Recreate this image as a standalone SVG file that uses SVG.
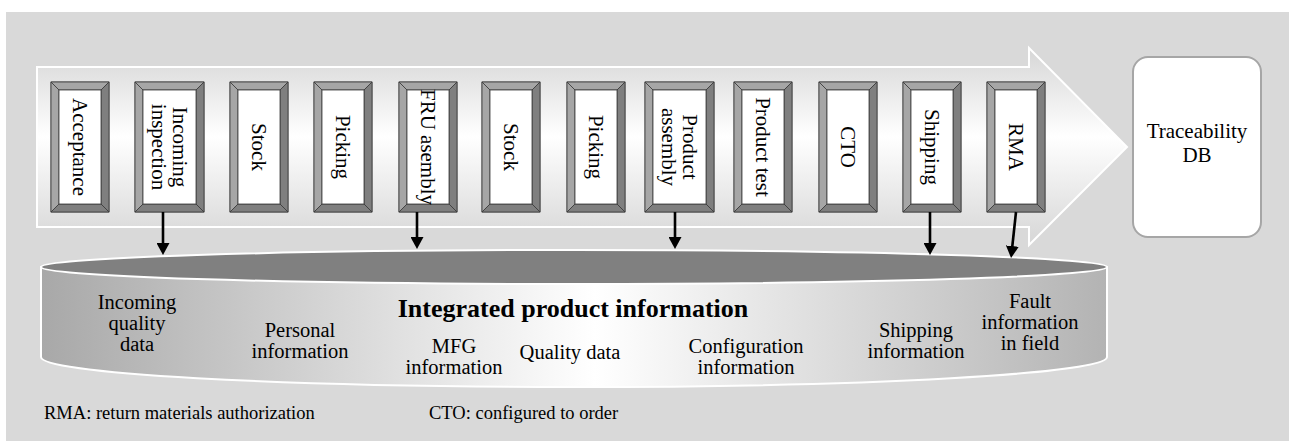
<svg xmlns="http://www.w3.org/2000/svg" xmlns:xlink="http://www.w3.org/1999/xlink" width="1289" height="441" viewBox="0 0 1289 441">
<style>
text{font-family:"Liberation Serif","Times New Roman",serif;fill:#000}
.lbl{font-size:21px;text-anchor:middle}
.cl{font-size:20.5px;text-anchor:middle}
.title{font-size:26px;font-weight:bold;text-anchor:middle}
.note{font-size:18.5px}
.bv{stroke:#3a3a3a;stroke-width:0.8}
.lt{fill:#a6a6a6}
.dk{fill:#7f7f7f}
.in{fill:#fff}
.conn line{stroke:#000;stroke-width:2.6;marker-end:url(#ah)}
</style>
<defs>
<linearGradient id="arrowGrad" x1="0" y1="0" x2="0" y2="1">
<stop offset="0" stop-color="#d6d6d6"/>
<stop offset="0.45" stop-color="#ffffff"/>
<stop offset="1" stop-color="#d6d6d6"/>
</linearGradient>
<linearGradient id="cylGrad" x1="0" y1="0" x2="1" y2="0">
<stop offset="0" stop-color="#a8a8a8"/>
<stop offset="0.52" stop-color="#ffffff"/>
<stop offset="1" stop-color="#b3b3b3"/>
</linearGradient>
<marker id="ah" markerUnits="userSpaceOnUse" markerWidth="13" markerHeight="13" refX="6" refY="6.5" orient="auto">
<path d="M0,0 L12,6.5 L0,13 Z" fill="#000"/>
</marker>
<g id="box58">
<rect class="lt bv" x="0" y="0" width="58" height="130"/>
<polygon class="lt bv" points="0,0 58,0 50,8 8,8"/>
<polygon class="lt bv" points="0,0 8,8 8,122 0,130"/>
<polygon class="dk bv" points="58,0 58,130 50,122 50,8"/>
<polygon class="dk bv" points="0,130 58,130 50,122 8,122"/>
<rect class="in bv" x="8" y="8" width="42" height="114"/>
</g>
<g id="box69">
<rect class="lt bv" x="0" y="0" width="69" height="130"/>
<polygon class="lt bv" points="0,0 69,0 61,8 8,8"/>
<polygon class="lt bv" points="0,0 8,8 8,122 0,130"/>
<polygon class="dk bv" points="69,0 69,130 61,122 61,8"/>
<polygon class="dk bv" points="0,130 69,130 61,122 8,122"/>
<rect class="in bv" x="8" y="8" width="53" height="114"/>
</g>
</defs>

<rect x="6" y="12" width="1283" height="429" fill="#d9d9d9"/>

<g id="process-arrow">
<path d="M37,67 L1029,67 L1029,48 L1127,147 L1029,245 L1029,227 L37,227 Z" fill="url(#arrowGrad)" stroke="#fff" stroke-width="2"/>
</g>

<g id="traceability-db">
<rect x="1133" y="57" width="128" height="180" rx="15" fill="#fff" stroke="#a6a6a6" stroke-width="2"/>
<text class="lbl" x="1197" y="138">Traceability</text>
<text class="lbl" x="1197" y="162">DB</text>
</g>

<g id="cylinder">
<path d="M41,267 L41,357 A533,30 0 0 0 1107,357 L1107,267 Z" fill="url(#cylGrad)" stroke="#fff" stroke-width="2"/>
<ellipse cx="574" cy="267" rx="533" ry="17" fill="#808080" stroke="#fff" stroke-width="2"/>
<text class="title" x="573" y="317">Integrated product information</text>
<text class="cl" x="137" y="309">Incoming</text>
<text class="cl" x="137" y="330">quality</text>
<text class="cl" x="137" y="351">data</text>
<text class="cl" x="300" y="337">Personal</text>
<text class="cl" x="300" y="358">information</text>
<text class="cl" x="454" y="353">MFG</text>
<text class="cl" x="454" y="374">information</text>
<text class="cl" x="570" y="359">Quality data</text>
<text class="cl" x="746" y="353">Configuration</text>
<text class="cl" x="746" y="374">information</text>
<text class="cl" x="916" y="337">Shipping</text>
<text class="cl" x="916" y="358">information</text>
<text class="cl" x="1030" y="308">Fault</text>
<text class="cl" x="1030" y="329">information</text>
<text class="cl" x="1030" y="350">in field</text>
</g>

<g id="step-acceptance">
<use xlink:href="#box58" x="51" y="82"/>
<text class="lbl" transform="translate(80,147) rotate(90)" y="7">Acceptance</text>
</g>
<g id="step-incoming-inspection">
<use xlink:href="#box69" x="135" y="82"/>
<text class="lbl" transform="translate(169.5,147) rotate(90)" y="-3">Incoming</text>
<text class="lbl" transform="translate(169.5,147) rotate(90)" y="17.5">inspection</text>
</g>
<g id="step-stock-1">
<use xlink:href="#box58" x="230" y="82"/>
<text class="lbl" transform="translate(259,147) rotate(90)" y="7">Stock</text>
</g>
<g id="step-picking-1">
<use xlink:href="#box58" x="314" y="82"/>
<text class="lbl" transform="translate(343,147) rotate(90)" y="7">Picking</text>
</g>
<g id="step-fru-asembly">
<use xlink:href="#box58" x="399" y="82"/>
<text class="lbl" transform="translate(428,147) rotate(90)" y="7">FRU asembly</text>
</g>
<g id="step-stock-2">
<use xlink:href="#box58" x="482" y="82"/>
<text class="lbl" transform="translate(511,147) rotate(90)" y="7">Stock</text>
</g>
<g id="step-picking-2">
<use xlink:href="#box58" x="567" y="82"/>
<text class="lbl" transform="translate(596,147) rotate(90)" y="7">Picking</text>
</g>
<g id="step-product-assembly">
<use xlink:href="#box69" x="645" y="82"/>
<text class="lbl" transform="translate(679.5,147) rotate(90)" y="-3">Product</text>
<text class="lbl" transform="translate(679.5,147) rotate(90)" y="17.5">assembly</text>
</g>
<g id="step-product-test">
<use xlink:href="#box58" x="734" y="82"/>
<text class="lbl" transform="translate(763,147) rotate(90)" y="7">Product test</text>
</g>
<g id="step-cto">
<use xlink:href="#box58" x="819" y="82"/>
<text class="lbl" transform="translate(848,147) rotate(90)" y="7">CTO</text>
</g>
<g id="step-shipping">
<use xlink:href="#box58" x="903" y="82"/>
<text class="lbl" transform="translate(932,147) rotate(90)" y="7">Shipping</text>
</g>
<g id="step-rma">
<use xlink:href="#box58" x="987" y="82"/>
<text class="lbl" transform="translate(1016,147) rotate(90)" y="7">RMA</text>
</g>

<g id="connectors" class="conn">
<line x1="163" y1="212" x2="163" y2="249"/>
<line x1="417" y1="212" x2="417" y2="243"/>
<line x1="675" y1="212" x2="675" y2="243"/>
<line x1="930" y1="212" x2="930" y2="249"/>
<line x1="1016" y1="212" x2="1011.7" y2="252"/>
</g>

<g id="notes">
<text class="note" x="44" y="419">RMA: return materials authorization</text>
<text class="note" x="429" y="419">CTO: configured to order</text>
</g>
</svg>
